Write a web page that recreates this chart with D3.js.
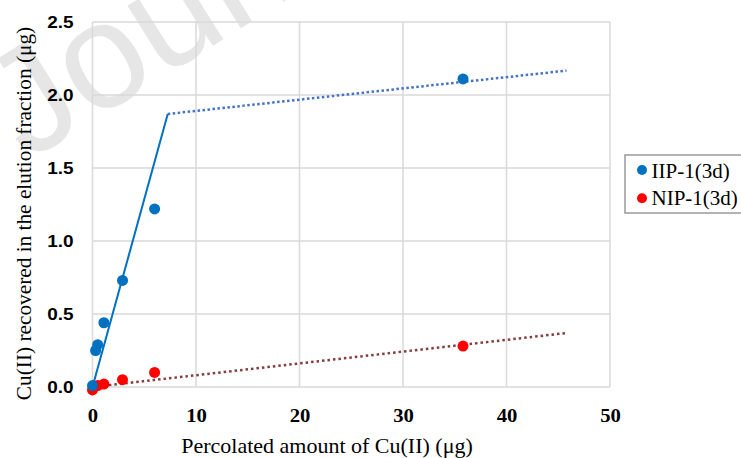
<!DOCTYPE html>
<html><head><meta charset="utf-8">
<script src="https://cdn.jsdelivr.net/npm/d3@7"></script>
<style>
body{margin:0;background:#fff;} svg{display:block;}
.serif{font-family:"Liberation Serif","Times New Roman","DejaVu Serif",serif;}
.sans{font-family:"Liberation Sans",Arial,"DejaVu Sans",sans-serif;}
</style>
</head><body>
<svg id="c" width="741" height="458"></svg>
<script>
const xTicks = [0,10,20,30,40,50];
const yTicks = [0,0.5,1.0,1.5,2.0,2.5];
const iipX = [0, 0.3, 0.5, 1.1, 2.9, 6.0, 35.8];
const iipY = [0.01, 0.25, 0.29, 0.44, 0.73, 1.22, 2.11];
const nipX = [0, 0.5, 1.1, 2.9, 6.0, 35.8];
const nipY = [-0.02, 0.01, 0.02, 0.05, 0.10, 0.28];
const iipFitSolid = [[0,0],[7.27,1.87]];
const iipFitDotted = [[7.27,1.87],[45.8,2.167]];
const nipFit = [[0,0],[45.8,0.37]];
const seriesNames = ["IIP-1(3d)","NIP-1(3d)"];

const svg = d3.select("#c");
const x = d3.scaleLinear().domain([0,50]).range([92.5,610]);
const y = d3.scaleLinear().domain([0,2.5]).range([387,22]);

// watermark
svg.append("text").attr("class","sans").attr("transform","translate(27,162) rotate(-32)")
  .attr("font-size",150).attr("fill","#e6e6e6").text("Journal Pre-proof");

const grid = svg.append("g");
grid.selectAll("line.v").data(xTicks).join("line")
  .attr("x1",d=>x(d)).attr("x2",d=>x(d)).attr("y1",y(2.5)).attr("y2",y(0))
  .attr("stroke","#d9d9d9").attr("stroke-width",1.5);
grid.selectAll("line.h").data(yTicks).join("line")
  .attr("x1",x(0)).attr("x2",x(50)).attr("y1",d=>y(d)).attr("y2",d=>y(d))
  .attr("stroke","#d9d9d9").attr("stroke-width",1.5);

const xAxis = svg.append("g").attr("transform",`translate(0,${y(0)})`)
  .call(d3.axisBottom(x).tickValues(xTicks).tickSize(0).tickFormat(d3.format("d")));
xAxis.attr("font-family",null).attr("font-size",null);
xAxis.select(".domain").remove();
xAxis.selectAll("text").attr("class","serif").attr("y",0).attr("dy",0)
  .attr("transform","translate(0,35) scale(1.15,1)")
  .attr("font-weight","bold").attr("font-size",18).attr("fill","#000");

const yAxis = svg.append("g").attr("transform",`translate(${x(0)},0)`)
  .call(d3.axisLeft(y).tickValues(yTicks).tickSize(0).tickFormat(d3.format(".1f")));
yAxis.attr("font-family",null).attr("font-size",null);
yAxis.select(".domain").remove();
yAxis.selectAll("text").attr("class","sans").attr("x",0).attr("dy","0.36em")
  .attr("transform","translate(-19,0) scale(1.15,1)")
  .attr("font-weight","bold").attr("font-size",16.5).attr("fill","#000");

const line = d3.line().x(d=>x(d[0])).y(d=>y(d[1]));
svg.append("path").attr("d",line(iipFitSolid)).attr("fill","none").attr("stroke","#0070C0").attr("stroke-width",2);
svg.append("path").attr("d",line(iipFitDotted)).attr("fill","none").attr("stroke","#4472C4").attr("stroke-width",2.5).attr("stroke-dasharray","2.5,2.5");
svg.append("path").attr("d",line(nipFit)).attr("fill","none").attr("stroke","#843C3C").attr("stroke-width",2.5).attr("stroke-dasharray","2.5,3");

svg.append("g").selectAll("circle").data(nipX.map((v,i)=>[v,nipY[i]])).join("circle")
  .attr("cx",d=>x(d[0])).attr("cy",d=>y(d[1])).attr("r",5.5).attr("fill","#FF0000");
svg.append("g").selectAll("circle").data(iipX.map((v,i)=>[v,iipY[i]])).join("circle")
  .attr("cx",d=>x(d[0])).attr("cy",d=>y(d[1])).attr("r",5.5).attr("fill","#0070C0");

svg.append("text").attr("class","serif").attr("x",327).attr("y",453).attr("text-anchor","middle")
  .attr("font-size",22).attr("fill","#000").text("Percolated amount of Cu(II) (μg)");
svg.append("text").attr("class","serif").attr("transform","translate(31,213.5) rotate(-90)").attr("text-anchor","middle")
  .attr("font-size",21.3).attr("fill","#000").text("Cu(II) recovered in the elution fraction (μg)");

// legend
const lg = svg.append("g");
lg.append("rect").attr("x",625).attr("y",155).attr("width",130).attr("height",58)
  .attr("fill","#fff").attr("stroke","#808080").attr("stroke-width",1.2);
const colors = ["#0070C0","#FF0000"];
seriesNames.forEach((n,i)=>{
  lg.append("circle").attr("cx",642).attr("cy",170+i*28.3).attr("r",5).attr("fill",colors[i]);
  lg.append("text").attr("class","serif").attr("x",651.5).attr("y",178+i*27)
    .attr("font-size",21).attr("fill","#000").text(n);
});
</script>
</body></html>
